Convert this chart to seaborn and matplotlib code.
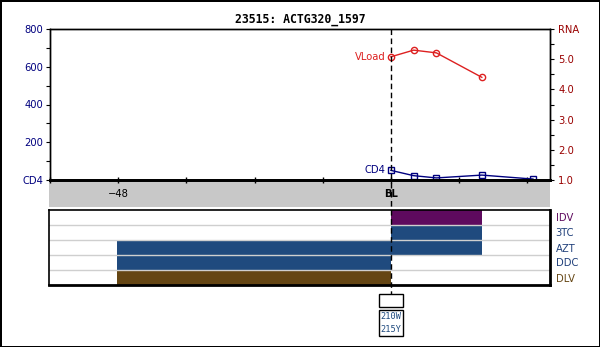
import matplotlib
matplotlib.use("Agg")
import matplotlib.pyplot as plt
import matplotlib.transforms as mtransforms
from matplotlib.patches import Rectangle
from matplotlib.lines import Line2D
import seaborn as sns

# ---- data ----
title = "23515: ACTG320_1597"
weeks_cd4 = [0, 4, 8, 16, 25]
cd4 = [51, 23, 11, 26, 5]
weeks_vl = [0, 4, 8, 16]
vload = [5.08, 5.30, 5.21, 4.40]
xticks = [-60, -48, -36, -24, -12, 0, 12, 24]
xticklabels = ["", "\u221248", "", "", "", "BL", "", ""]
cd4_ticks = [0, 200, 400, 600, 800]
cd4_ticklabels = ["CD4", "200", "400", "600", "800"]
rna_ticks = [1, 2, 3, 4, 5, 6]
rna_ticklabels = ["1.0", "2.0", "3.0", "4.0", "5.0", "RNA"]
drugs = ["IDV", "3TC", "AZT", "DDC", "DLV"]
drug_start = [0, 0, -48, -48, -48]
drug_end = [16, 16, 16, 0, 0]
drug_colors = ["#5e0a5e", "#1f4a7e", "#1f4a7e", "#1f4a7e", "#654614"]
label_colors = ["#5e0a5e", "#1f3f7a", "#1f3f7a", "#1f3f7a", "#654614"]
mutation_week = 0
mutations = ["210W", "215Y"]

NAVY = "#00007f"
RED = "#dd2020"
DARKRED = "#990000"

W, H = 600, 347
fig = plt.figure(figsize=(W / 100, H / 100), dpi=100)
fig.patch.set_facecolor("white")
fig.patch.set_edgecolor("black")
fig.patch.set_linewidth(2)

def rect(x0, y0, x1, y1):
    return [x0 / W, 1 - y1 / H, (x1 - x0) / W, (y1 - y0) / H]

band = fig.add_axes(rect(49, 180, 550, 207))
band.set_facecolor("#c8c8c8")
band.set_xticks([]); band.set_yticks([])
for s in band.spines.values():
    s.set_visible(False)

ax = fig.add_axes(rect(50, 29, 550, 180))
ax2 = ax.twinx()
tax = fig.add_axes(rect(49, 210, 550, 285))

FS = 7.2

sns.lineplot(x=weeks_cd4, y=cd4, ax=ax, color=NAVY, linewidth=1,
             marker="s", markersize=4, markerfacecolor="none",
             markeredgecolor=NAVY, markeredgewidth=1)
sns.lineplot(x=weeks_vl, y=vload, ax=ax2, color=RED, linewidth=1,
             marker="o", markersize=4.5, markerfacecolor="none",
             markeredgecolor=RED, markeredgewidth=1)

ax.set_xlim(-60, 28)
ax.set_ylim(0, 800)
ax2.set_ylim(1, 6)
ax.set_xticks(xticks)
ax.set_xticklabels(xticklabels, fontsize=FS)
for lbl in ax.get_xticklabels():
    if lbl.get_text() == "BL":
        lbl.set_fontweight("bold")
ax.tick_params(axis="x", direction="inout", length=4, width=1, pad=4.5, colors="black")
ax.set_yticks(cd4_ticks)
ax.set_yticklabels(cd4_ticklabels, fontsize=FS, color=NAVY)
ax.set_yticks([100, 300, 500, 700], minor=True)
ax.tick_params(axis="y", which="both", direction="out", length=3, width=0.8, pad=2)
ax2.set_yticks(rna_ticks)
ax2.set_yticklabels(rna_ticklabels, fontsize=FS, color=DARKRED)
ax2.set_yticks([1.5, 2.5, 3.5, 4.5, 5.5], minor=True)
ax2.tick_params(axis="y", which="both", direction="out", length=3, width=0.8, pad=3)
ax.set_xlabel(""); ax.set_ylabel(""); ax2.set_ylabel("")
for a in (ax, ax2):
    for name, s in a.spines.items():
        s.set_color("black")
        s.set_linewidth(2 if name == "bottom" else 1)

ax.annotate("CD4", (weeks_cd4[0], cd4[0]), xytext=(-4, 0), textcoords="offset points",
            ha="right", va="center", fontsize=FS, color=NAVY)
ax2.annotate("VLoad", (weeks_vl[0], vload[0]), xytext=(-4, 0), textcoords="offset points",
             ha="right", va="center", fontsize=FS, color=RED)

fig.text(0.5, 1 - 20 / H, title, ha="center", va="center", fontsize=8.3,
         fontweight="bold", family="DejaVu Sans Mono")

# treatment panel
widths = [e - s for s, e in zip(drug_start, drug_end)]
tax.barh(range(len(drugs)), widths, left=drug_start, height=1.0,
         color=drug_colors, edgecolor="none", zorder=1)
for i in range(len(drugs) - 1):
    tax.axhline(i + 0.5, color="#cfcfcf", linewidth=1, zorder=2)
tax.set_xlim(-60, 28)
tax.set_ylim(len(drugs) - 0.5, -0.5)
tax.set_xticks([])
tax.yaxis.tick_right()
tax.set_yticks(range(len(drugs)))
tax.set_yticklabels(drugs, fontsize=FS, family="DejaVu Sans")
for lbl, c in zip(tax.get_yticklabels(), label_colors):
    lbl.set_color(c)
tax.tick_params(axis="y", length=0, pad=4)
for name, s in tax.spines.items():
    s.set_color("black")
    s.set_linewidth(2 if name in ("bottom", "right") else 1.2)

# baseline dashed line
trans = mtransforms.blended_transform_factory(ax.transData, fig.transFigure)
fig.add_artist(Line2D([mutation_week, mutation_week], [1 - 29 / H, 1 - 294 / H],
                      transform=trans, color="black", linewidth=1,
                      linestyle=(0, (4, 2.5)), zorder=10))
# empty box and mutation box
fig.add_artist(Rectangle((mutation_week - 2.1, 1 - 307 / H), 4.2, 13 / H,
                         transform=trans, facecolor="white", edgecolor="black",
                         linewidth=1, zorder=11))
fig.add_artist(Rectangle((mutation_week - 2.15, 1 - 336 / H), 4.3, 26 / H,
                         transform=trans, facecolor="white", edgecolor="black",
                         linewidth=1, zorder=11))
fig.text(mutation_week, 1 - 323 / H, "\n".join(mutations), transform=trans,
         ha="center", va="center", fontsize=6.2, family="DejaVu Sans Mono",
         color="#1f4a7e", linespacing=1.45, zorder=12)

fig.savefig("out.png", dpi=100, facecolor="white", edgecolor="black")
